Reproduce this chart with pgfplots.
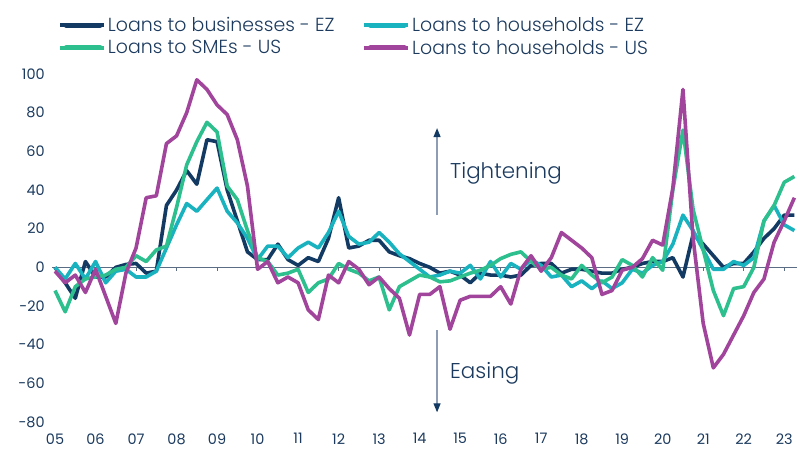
\documentclass[border=0pt]{standalone}
\usepackage{fontspec}
\setmainfont{Poppins}
\newfontfamily\lightfont{Poppins Light}
\usepackage{pgfplots}
\usepackage{pgfplotstable}
\pgfplotsset{compat=1.18}
\usetikzlibrary{arrows.meta}

\definecolor{cnavy}{HTML}{133A63}
\definecolor{cteal}{HTML}{19B2BF}
\definecolor{cgreen}{HTML}{2DBF8D}
\definecolor{cpurple}{HTML}{A1449B}
\definecolor{ctext}{HTML}{1B3A5E}
\definecolor{czero}{HTML}{5A6D85}
\definecolor{carrow}{HTML}{8C9DB5}

% t = year - 2000 (quarterly)
\pgfplotstableread{
t biz hhez sme hhus
5.00 0 0 -12 -2
5.25 -8 -6 -23 -8
5.50 -16 2 -10 -4
5.75 3 -6 -6 -13
6.00 -5 3 -5 -1
6.25 -5 -8 -4 -15
6.50 0 -2 -1 -29
6.75 1.5 -1 0 -3
7.00 2 -5 6 10
7.25 -3 -5 3 36
7.50 -2 -2 9 37
7.75 32 10 11 64
8.00 40 22 31 68
8.25 50 33 53 80
8.50 43 29 65 97
8.75 66 35 75 92
9.00 65 41 70 84
9.25 40 29 42 79
9.50 24 23 35 66
9.75 8 15 19 42
10.00 4 4 5 -1
10.25 4 11 3 3
10.50 12 11 -4 -8
10.75 4 5 -3 -5
11.00 1 10 -1 -8
11.25 5 13 -13 -22
11.50 3 10 -8 -27
11.75 15 18 -6 -4
12.00 36 29 2 -8
12.25 10 16 -1 3
12.50 11 12 -3 -1
12.75 14 13 -7 -9
13.00 14 18 -5 -5
13.25 8 13 -22 -11
13.50 6 7 -10 -16
13.75 4.5 3 -7 -35
14.00 2 -1 -4 -14
14.25 0 -5 -5 -14
14.50 -3 -4 -7.5 -10
14.75 -2 -2 -7 -32
15.00 -4 -3 -5 -17
15.25 -8 1 -3 -15
15.50 -3 -6 -1.5 -15
15.75 -4 3 1 -15
16.00 -4 -5 4.5 -10
16.25 -5 2 6.7 -19
16.50 -4 -1 8 -1
16.75 1 4 3 6
17.00 2 1 -1 -2
17.25 2 -5 0 5
17.50 -3 -4 -4 18
17.75 -1 -10 -6 14
18.00 -1 -7 1 10
18.25 -2 -11 -4 5
18.50 -3 -7 -8 -14
18.75 -3 -11 -5 -12
19.00 -1 -8 4 -1.5
19.25 0 -1 1 0
19.50 2 -3 -5 4.5
19.75 3 1 5 14
20.00 3 3 -1.5 11.5
20.25 5 12 40 41
20.50 -5 27 71 92
20.75 17 19 30 15
21.00 12 9 9 -29
21.25 6 -1 -12 -52
21.50 0 -1 -25 -45
21.75 2 3 -11 -35
22.00 2 1 -10 -25
22.25 8 5 0 -13
22.50 15 24 24 -6
22.75 20 32 32 13
23.00 27 22 44 24
23.25 27 19 47 36
}\datatable

\begin{document}
\begin{tikzpicture}
\useasboundingbox (0,0) rectangle (801bp,450bp);
\begin{axis}[
  at={(52.2bp,28bp)}, anchor=south west,
  scale only axis, width=745bp, height=348bp,
  xmin=4.93, xmax=23.32, ymin=-80, ymax=100,
  clip=false,
  axis line style={draw=none},
  major tick length=0pt,
  tick style={draw=none},
  xtick={5,6,...,23},
  xticklabels={05,06,07,08,09,10,11,12,13,14,15,16,17,18,19,20,21,22,23},
  ytick={-80,-60,-40,-20,0,20,40,60,80,100},
  yticklabels={-80,-60,-40,-20,0,20,40,60,80,100},
  tick label style={font=\fontsize{14.5}{16}\selectfont, text=ctext},
  xticklabel style={yshift=-8bp},
  yticklabel style={xshift=-4bp},
  legend columns=2,
  legend cell align=left,
  legend style={draw=none, fill=none, at={(0.004,1.175)}, anchor=north west,
    font=\lightfont\fontsize{19}{22}\selectfont, text=ctext,
    /tikz/every even column/.append style={column sep=26bp},
    row sep=3bp},
  legend image code/.code={\path (0bp,0bp) -- (44bp,0bp); \draw[#1, line width=5bp, line cap=round] (6bp,0bp) -- (40bp,0bp);},
  every axis plot/.append style={line width=3.6bp, line join=round, mark=none},
]
\draw[czero, line width=1.5bp] (axis cs:4.93,0) -- (axis cs:23.32,0);
\pgfplotsinvokeforeach{5,6,7,8,9,10,11,12,13,14,15,16,17,18,19,20,21,22,23}{\draw[czero, line width=1bp] (axis cs:#1,0) -- (axis cs:#1,-2);}
\addplot[cnavy] table[x=t, y=biz] {\datatable};
\addlegendentry{Loans to businesses - EZ}
\addplot[cteal] table[x=t, y=hhez] {\datatable};
\addlegendentry{Loans to households - EZ}
\addplot[cgreen] table[x=t, y=sme] {\datatable};
\addlegendentry{Loans to SMEs - US}
\addplot[cpurple] table[x=t, y=hhus] {\datatable};
\addlegendentry{Loans to households - US}
\draw[carrow, line width=1.3bp, -{Triangle[length=9bp, width=7bp, fill=cnavy, color=cnavy]}] (axis cs:14.43,27) -- (axis cs:14.43,72);
\draw[carrow, line width=1.3bp, -{Triangle[length=9bp, width=7bp, fill=cnavy, color=cnavy]}] (axis cs:14.43,-32.5) -- (axis cs:14.43,-75);
\node[anchor=west, text=ctext, font=\lightfont\fontsize{21.5}{24}\selectfont, inner sep=0pt] at (axis cs:14.75,48.5) {Tightening};
\node[anchor=west, text=ctext, font=\lightfont\fontsize{21.5}{24}\selectfont, inner sep=0pt] at (axis cs:14.75,-55) {Easing};
\end{axis}
\end{tikzpicture}
\end{document}
